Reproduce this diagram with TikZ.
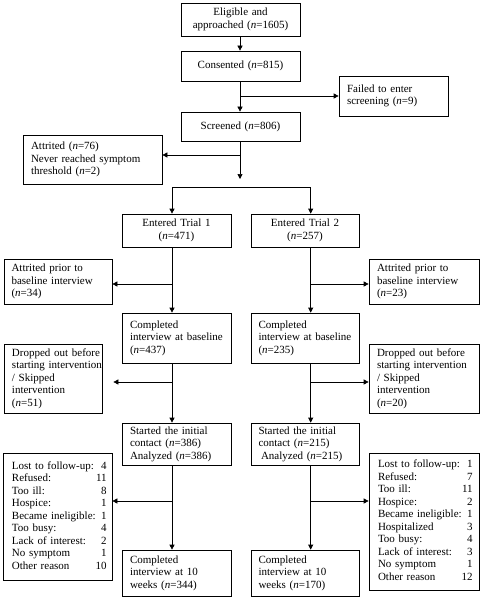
\documentclass[tikz,border=0pt]{standalone}
\usepackage{fontspec}
\setmainfont{Liberation Serif}
\usetikzlibrary{arrows.meta,positioning,calc}

\begin{document}
\begin{tikzpicture}[x=1pt,y=-1pt,
    box/.style={draw, line width=0.7pt, inner xsep=8pt, inner ysep=0pt, font={\fontsize{11}{12.5}\selectfont\hyphenpenalty=10000}, align=left, text width=93pt, minimum height=#1},
    cbox/.style={box=#1, align=center},
    arr/.style={line width=0.7pt, -{Triangle[length=5pt,width=5pt]}},
    line/.style={line width=0.7pt}]
    \useasboundingbox (0,0) rectangle (483,599);
    \node[cbox=33pt, text width=103pt] (elig) at (240.5,19.5) {Eligible and\\approached (\textit{n}=1605)};
    \node[cbox=30pt, text width=103pt] (cons) at (240.5,66) {Consented (\textit{n}=815)};
    \node[box=40pt] (fail) at (393.5,96) {Failed to enter\\screening (\textit{n}=9)};
    \node[cbox=29pt, text width=103pt] (scr) at (240.5,126.5) {Screened (\textit{n}=806)};
    \node[box=49pt, text width=123pt] (att) at (92.5,159.5) {Attrited (\textit{n}=76)\\Never reached symptom\\threshold (\textit{n}=2)};
    \node[cbox=33pt] (ent1) at (176.5,230.5) {Entered Trial 1\\(\textit{n}=471)};
    \node[cbox=33pt, text width=93pt, inner xsep=7.5pt] (ent2) at (305,230.5) {Entered Trial 2\\(\textit{n}=257)};
    \node[box=45pt, text width=93pt, inner xsep=7.5pt] (attA) at (58,281.5) {Attrited prior to\\baseline interview\\(\textit{n}=34)};
    \node[box=45pt, text width=94pt] (attB) at (424,281.5) {Attrited prior to\\baseline interview\\(\textit{n}=23)};
    \node[box=50pt] (base1) at (176.5,338) {Completed\\interview at baseline\\(\textit{n}=437)};
    \node[box=50pt, text width=93pt, inner xsep=7.5pt] (base2) at (305,338) {Completed\\interview at baseline\\(\textit{n}=235)};
    \node[box=69pt, text width=82pt] (dropA) at (53,378.5) {\makebox[82pt][l]{Dropped out before}\\\makebox[82pt][l]{starting intervention}\\/ Skipped\\intervention\\(\textit{n}=51)};
    \node[box=69pt, text width=94pt] (dropB) at (424,378.5) {Dropped out before\\starting intervention\\/ Skipped\\intervention\\(\textit{n}=20)};
    \node[box=42pt] (start1) at (176.5,444) {Started the initial\\contact (\textit{n}=386)\\Analyzed (\textit{n}=386)};
    \node[box=42pt, text width=93pt, inner xsep=7.5pt] (start2) at (305,444) {Started the initial\\contact (\textit{n}=215)\\\hspace*{2.5pt}Analyzed (\textit{n}=215)};
    \node[box=127pt, text width=91pt, inner xsep=9pt] (whyA) at (57.5,516.5) {\begin{tabular*}{91pt}{@{}l@{\extracolsep{\fill}}r@{}}
        Lost to follow-up: & 4\\ Refused: & 11\\ Too ill: & 8\\ Hospice: & 1\\ Became ineligible: & 1\\
        Too busy: & 4\\ Lack of interest: & 2\\ No symptom & 1\\ Other reason & 10
    \end{tabular*}};
    \node[box=137pt, text width=92pt, inner xsep=9pt] (whyB) at (424,521.5) {\begin{tabular*}{92pt}{@{}l@{\extracolsep{\fill}}r@{}}
        Lost to follow-up: & 1\\ Refused: & 7\\ Too ill: & 11\\ Hospice: & 2\\ Became ineligible: & 1\\
        Hospitalized & 3\\ Too busy: & 4\\ Lack of interest: & 3\\ No symptom & 1\\ Other reason & 12
    \end{tabular*}};
    \node[box=46pt] (comp1) at (176.5,573) {Completed\\interview at 10\\weeks (\textit{n}=344)};
    \node[box=46pt, text width=93pt, inner xsep=7.5pt] (comp2) at (305,573) {Completed\\interview at 10\\weeks (\textit{n}=170)};
    \coordinate (spine) at (240,155);
    \coordinate (split) at (240,179);
    \coordinate (fork1) at (172,187);
    \coordinate (fork2) at (310.7,187);
    \coordinate (outA1) at (172,284);
    \coordinate (outA2) at (172,382);
    \coordinate (outA3) at (172,501);
    \coordinate (outB1) at (310.7,284);
    \coordinate (outB2) at (310.7,382);
    \coordinate (outB3) at (310.7,501);
    \draw[arr] (elig.south -| spine) -- (cons.north -| spine);
    \draw[arr] (cons.south -| spine) -- (scr.north -| spine);
    \draw[arr] (spine |- fail.west) -- (fail.west);
    \draw[arr] (scr.south -| spine) -- (split);
    \draw[arr] (spine) -- (spine -| att.east);
    \draw[arr] (fork2) -- (fork1) -- (fork1 |- ent1.north);
    \draw[arr] (fork2) -- (fork2 |- ent2.north);
    \draw[arr] (fork1 |- ent1.south) -- (fork1 |- base1.north);
    \draw[arr] (fork1 |- base1.south) -- (fork1 |- start1.north);
    \draw[arr] (fork1 |- start1.south) -- (fork1 |- comp1.north);
    \draw[arr] (fork2 |- ent2.south) -- (fork2 |- base2.north);
    \draw[arr] (fork2 |- base2.south) -- (fork2 |- start2.north);
    \draw[arr] (fork2 |- start2.south) -- (fork2 |- comp2.north);
    \draw[arr] (outA1) -- (outA1 -| attA.east);
    \draw[arr, shorten >=11pt] (outA2) -- (outA2 -| dropA.east);
    \draw[arr] (outA3) -- (outA3 -| whyA.east);
    \draw[arr] (outB1) -- (outB1 -| attB.west);
    \draw[arr] (outB2) -- (outB2 -| dropB.west);
    \draw[arr] (outB3) -- (outB3 -| whyB.west);
\end{tikzpicture}
\end{document}
